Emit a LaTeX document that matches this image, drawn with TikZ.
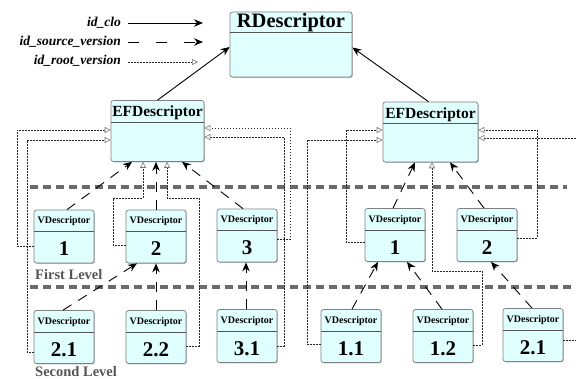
\documentclass[tikz,border=0pt]{standalone}
\usepackage{fontspec}
\setmainfont{Liberation Serif}
\usetikzlibrary{arrows.meta,shadows,calc}
\definecolor{boxfill}{HTML}{E0FFFF}
\definecolor{boxline}{HTML}{808080}
\definecolor{divline}{HTML}{555555}
\definecolor{levelgray}{HTML}{6A6A6A}
\definecolor{leveltext}{HTML}{555555}
\begin{document}
\begin{tikzpicture}[x=1pt,y=-1pt,
  box/.style={draw=boxline, fill=boxfill, rounded corners=2.5pt, line width=0.7pt, inner sep=0pt,
    drop shadow={shadow xshift=0.9pt, shadow yshift=-0.9pt, fill=black!45, opacity=0.6}},
  vbox/.style={box, minimum width=60pt, minimum height=53pt},
  efbox/.style={box, minimum width=93pt, minimum height=61pt},
  divider/.style={draw=divline, line width=0.7pt},
  vtitle/.style={anchor=base, inner sep=0pt, font=\fontsize{10}{10}\selectfont\bfseries},
  vnum/.style={anchor=base, inner sep=0pt, font=\fontsize{21}{21}\selectfont\bfseries},
  eftitle/.style={anchor=base, inner sep=0pt, font=\fontsize{15.5}{15.5}\selectfont\bfseries},
  legendtext/.style={anchor=base east, inner sep=0pt, font=\fontsize{13.5}{13.5}\selectfont\bfseries\itshape},
  leveltxt/.style={anchor=base west, inner sep=0pt, text=leveltext, font=\fontsize{14.5}{14.5}\selectfont\bfseries},
  levelline/.style={draw=levelgray, line width=3.2pt, dash pattern=on 8pt off 5pt},
  clo/.style={draw=black, line width=0.9pt, -{Stealth[length=9pt,width=7.5pt]}},
  srcv/.style={draw=black, line width=0.9pt, dash pattern=on 10pt off 8pt, -{Stealth[length=9pt,width=7.5pt]}},
  srcvlegend/.style={srcv, dash pattern=on 11pt off 17pt},
  rootv/.style={draw=black!85, line width=0.6pt, dash pattern=on 1.6pt off 1.4pt,
    -{Triangle[length=6pt,width=6pt,color=black!55,fill=white]}},
  rootvline/.style={draw=black!85, line width=0.6pt, dash pattern=on 1.6pt off 1.4pt},
]
\useasboundingbox (0,0) rectangle (576,379);

% level separators
\draw[levelline] (30,187) -- (567,187);
\draw[levelline] (30,287) -- (576,287);
\node[leveltxt] (lev1) at (35,280) {First Level};
\node[leveltxt] (lev2) at (35,376.5) {Second Level};

% legend
\node[legendtext] (lg1) at (121,27) {id\_clo};
\node[legendtext] (lg2) at (121,46) {id\_source\_version};
\node[legendtext] (lg3) at (121,65) {id\_root\_version};
\coordinate (lg1s) at (128,23); \coordinate (lg1e) at (203,23);
\coordinate (lg2s) at (128,42); \coordinate (lg2e) at (203,42);
\coordinate (lg3s) at (128,62); \coordinate (lg3e) at (198,62);
\draw[clo] (lg1s) -- (lg1e);
\draw[srcvlegend] (lg2s) -- (lg2e);
\draw[rootv] (lg3s) -- (lg3e);

% RDescriptor
\node[box, minimum width=122pt, minimum height=65pt] (R) at (291,44.5) {};
\draw[divider] ([yshift=-21pt]R.north west) -- ([yshift=-21pt]R.north east);
\node[anchor=base, inner sep=0pt, font=\fontsize{20.5}{20.5}\selectfont\bfseries] (Rt) at ([yshift=-16pt]R.north) {RDescriptor};

% EFDescriptors
\node[efbox] (efL) at (157.5,131) {};
\node[efbox, minimum width=95pt, minimum height=60pt] (efR) at (430.5,132) {};
\foreach \nm in {efL,efR}{
  \draw[divider] ([yshift=-22pt]\nm.north west) -- ([yshift=-22pt]\nm.north east);
  \node[eftitle] (\nm-t) at ([yshift=-16.5pt]\nm.north) {EFDescriptor};
}

% VDescriptors
\foreach \nm/\x/\y/\t in {a1/64/236.5/1, a2/156/236.5/2, a3/247/235.5/3, b1/395/235/1, b2/487/235/2,
  a21/64/337/2.1, a22/156/337/2.2, a31/247/336/3.1, b11/351/336/1.1, b12/443/336/1.2, b21/533/335/2.1}{
  \node[vbox] (\nm) at (\x,\y) {};
  \draw[divider] ([yshift=-22pt]\nm.north west) -- ([yshift=-22pt]\nm.north east);
  \node[vtitle] (\nm-t) at ([yshift=-14pt]\nm.north) {VDescriptor};
  \node[vnum] (\nm-n) at ([yshift=-46pt]\nm.north) {\t};
}

% id_clo
\draw[clo] (efL.north) -- ([yshift=-2.5pt]R.west);
\draw[clo] ([xshift=-2pt]efR.north) -- ([yshift=-3pt]R.east);

% id_source_version
\draw[srcv] ([xshift=3pt]a1.north) -- ([xshift=-25.5pt]efL.south);
\draw[srcv] (a2.north) -- (a2.north |- efL.south);
\draw[srcv] ([xshift=-4pt]a3.north) -- ([xshift=24.5pt]efL.south);
\draw[srcv] ([xshift=-2pt]b1.north) -- ([xshift=-15.5pt]efR.south);
\draw[srcv] ([xshift=-3pt]b2.north) -- ([xshift=19.5pt]efR.south);
\draw[srcv] ([xshift=-1pt]a21.north) -- ([xshift=-19pt]a2.south);
\draw[srcv] (a22.north) -- (a2.south);
\draw[srcv] ([xshift=-1pt]a31.north) -- ([xshift=-1pt]a3.south);
\draw[srcv] ([xshift=1pt]b11.north) -- ([xshift=-17pt]b1.south);
\draw[srcv] ([xshift=-1pt]b12.north) -- ([xshift=12pt]b1.south);
\draw[srcv] ([xshift=-1pt]b21.north) -- ([xshift=4pt]b2.south);

% id_root_version
\draw[rootv] ([yshift=-9.5pt]a1.west) -| (17,130) -- ([yshift=1pt]efL.west);
\draw[rootv] ([yshift=-15pt]a21.west) -| (27,140) -- ([yshift=-9pt]efL.west);
\draw[rootv] ([yshift=-8.5pt]a2.west) -| (113,198) -| ([xshift=-14.5pt]efL.south);
\draw[rootv] ([yshift=-9pt]a22.east) -| (199,198) -| ([xshift=9.5pt]efL.south);
\draw[rootv] ([yshift=-4pt]a3.east) -| (290,128) -- ([yshift=3pt]efL.east);
\draw[rootv] ([yshift=-10pt]a31.east) -| (284,137) -- ([yshift=-6pt]efL.east);
\draw[rootv] ([yshift=-7pt]b1.west) -| (346,130) -- ([yshift=2pt]efR.west);
\draw[rootv] ([yshift=-8pt]b11.west) -| (307,140) -- ([yshift=-8pt]efR.west);
\draw[rootv] ([yshift=-9pt]b12.east) -| (482,271) -| ([xshift=1.5pt]efR.south);
\draw[rootv] ([yshift=-3pt]b2.east) -| (537,130) -- ([yshift=2pt]efR.east);
\coordinate (offR) at (576,138);
\draw[rootv] (offR) -- ([yshift=-6pt]efR.east);
\coordinate (offR2) at (576,340);
\draw[rootvline] ([yshift=-5pt]b21.east) -- (offR2);
\end{tikzpicture}
\end{document}
